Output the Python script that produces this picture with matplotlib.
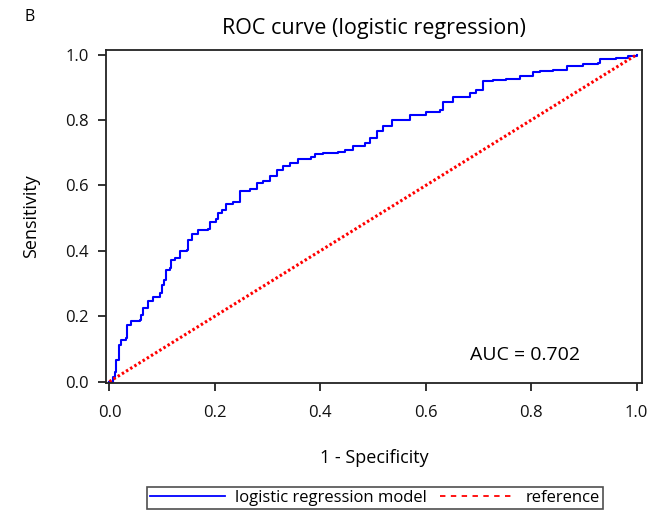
import matplotlib
matplotlib.use("Agg")
import matplotlib.pyplot as plt
from matplotlib.lines import Line2D

# ROC points (1 - specificity, sensitivity) for the logistic regression model
fpr = [0.0, 0.006, 0.010, 0.012, 0.016, 0.019, 0.022, 0.031, 0.034, 0.040, 0.058,
       0.060, 0.063, 0.071, 0.074, 0.082, 0.096, 0.099, 0.103, 0.107, 0.115, 0.117,
       0.124, 0.134, 0.148, 0.149, 0.156, 0.168, 0.187, 0.191, 0.203, 0.205, 0.213,
       0.222, 0.235, 0.247, 0.266, 0.279, 0.292, 0.304, 0.317, 0.330, 0.342, 0.358,
       0.383, 0.390, 0.405, 0.434, 0.446, 0.462, 0.484, 0.494, 0.507, 0.519, 0.535,
       0.560, 0.570, 0.601, 0.627, 0.633, 0.652, 0.683, 0.696, 0.709, 0.728, 0.753,
       0.778, 0.803, 0.816, 0.841, 0.867, 0.898, 0.927, 0.930, 0.961, 0.984, 1.0]
tpr = [0.0, 0.015, 0.030, 0.066, 0.066, 0.112, 0.128, 0.133, 0.174, 0.184, 0.187,
       0.204, 0.225, 0.225, 0.245, 0.260, 0.270, 0.296, 0.311, 0.342, 0.347, 0.372,
       0.378, 0.398, 0.403, 0.434, 0.452, 0.464, 0.466, 0.487, 0.497, 0.517, 0.526,
       0.544, 0.548, 0.582, 0.589, 0.607, 0.615, 0.630, 0.648, 0.658, 0.668, 0.681,
       0.687, 0.697, 0.699, 0.701, 0.709, 0.721, 0.730, 0.745, 0.765, 0.781, 0.799,
       0.801, 0.816, 0.826, 0.832, 0.854, 0.872, 0.883, 0.893, 0.918, 0.923, 0.926,
       0.934, 0.946, 0.951, 0.954, 0.964, 0.971, 0.974, 0.986, 0.989, 0.997, 1.0]
diag = [0.0, 1.0]
auc = 0.702

plt.rcParams['font.family'] = ['Open Sans', 'DejaVu Sans']

fig = plt.figure(figsize=(6.61, 5.13), dpi=100)
ax = fig.add_axes([0.160, 0.253, 0.812, 0.650])

ax.plot(fpr, tpr, color='#0000ff', lw=1.5, drawstyle='steps-post')
ax.plot(diag, diag, color='#ff0000', lw=2.2, linestyle=(0, (0.8, 0.8)))

ax.set_xlim(-0.007, 1.011)
ax.set_ylim(-0.005, 1.015)
ticks = [0.0, 0.2, 0.4, 0.6, 0.8, 1.0]
tick_labels = ['0.0', '0.2', '0.4', '0.6', '0.8', '1.0']
ax.set_xticks(ticks)
ax.set_yticks(ticks)
ax.set_xticklabels(tick_labels)
ax.set_yticklabels(tick_labels)
ax.tick_params(direction='out', length=6, width=1.3, labelsize=12, pad=6,
               color='#222222', labelcolor='#111111')
ax.tick_params(axis='x', pad=10)
for sp in ax.spines.values():
    sp.set_linewidth(1.3)
    sp.set_color('#222222')

ax.set_xlabel('1 - Specificity', fontsize=13, labelpad=20)
ax.set_ylabel('Sensitivity', fontsize=13, labelpad=18)
ax.set_title('ROC curve (logistic regression)', fontsize=15.5, pad=11)
ax.text(0.683, 0.082, 'AUC = %.3f' % auc, fontsize=14, va='center', ha='left')

fig.text(0.045, 0.967, 'B', fontsize=11.5, ha='center', va='center')

handles = [Line2D([], [], color='#0000ff', lw=1.3),
           Line2D([], [], color='#ff0000', lw=1.3, linestyle=(0, (3, 3)))]
leg = fig.legend(handles, ['logistic regression model', 'reference'],
                 loc='center', bbox_to_anchor=(0.567, 0.0295), ncol=2,
                 fontsize=12, frameon=True, fancybox=False, handlelength=4.5,
                 columnspacing=0.8, handletextpad=0.6, borderpad=0.2)
leg.get_frame().set_edgecolor('#222222')
leg.get_frame().set_linewidth(1.2)

fig.savefig('out.png', dpi=100)
